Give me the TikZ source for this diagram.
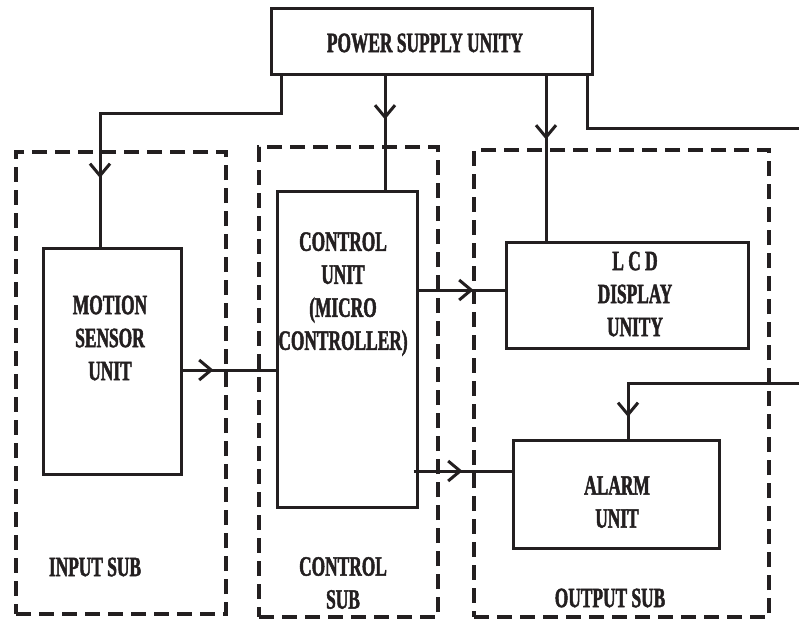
\documentclass[tikz,border=0pt]{standalone}
\usepackage{fontspec}
\newfontfamily\lblfont{Liberation Serif Bold}[FakeStretch=0.62, FakeBold=1.6]
\usetikzlibrary{arrows.meta,decorations.markings}
\definecolor{ink}{HTML}{231F20}
\begin{document}
\begin{tikzpicture}[x=1pt,y=-1pt,
  box/.style={draw=ink, line width=3pt, rectangle, inner sep=0pt},
  subbox/.style={draw=ink, line width=3.5pt, rectangle, inner sep=0pt, dash pattern=on 15pt off 8pt},
  conn/.style={draw=ink, line width=3pt},
  arrowat/.style={postaction={decorate}, decoration={markings, mark=at position #1 with {\arrow[ink]{Straight Barb[length=12pt,width=20pt,line width=3pt]}}}},
  lbl/.style={font=\lblfont\fontsize{28}{33}\selectfont, text=ink, align=center, inner sep=0pt}]
\useasboundingbox[fill=white] (0,0) rectangle (799,619);
% sub-system frames
\node[subbox, minimum width=210pt, minimum height=462pt] (insub) at (121,383) {};
\node[subbox, minimum width=179pt, minimum height=470pt] (ctrlsub) at (348.5,382) {};
\node[subbox, minimum width=295pt, minimum height=467pt] (outsub) at (621.5,383.5) {};
% blocks
\node[box, minimum width=321pt, minimum height=66pt] (psu) at (431.5,41) {};
\node[box, minimum width=138pt, minimum height=226pt] (motion) at (112,361) {};
\node[box, minimum width=140pt, minimum height=316pt] (ctrl) at (347,349) {};
\node[box, minimum width=242pt, minimum height=106pt] (lcd) at (627,295) {};
\node[box, minimum width=206pt, minimum height=108pt] (alarm) at (616,494) {};
% labels
\node[lbl] (tpsu) at (425,43) {POWER SUPPLY UNITY};
\node[lbl] (tmotion) at (110,338) {MOTION\\SENSOR\\UNIT};
\node[lbl] (tctrl) at (343,294) {CONTROL\\UNIT\\(MICRO\\CONTROLLER)};
\node[lbl] (tlcd) at (635,294) {L C D\\DISPLAY\\UNITY};
\node[lbl] (talarm) at (617,502) {ALARM\\UNIT};
\node[lbl] (tinsub) at (95,567) {INPUT SUB};
\node[lbl] (tctrlsub) at (343,583) {CONTROL\\SUB};
\node[lbl] (toutsub) at (610,598) {OUTPUT SUB};
% helper coordinates
\coordinate (c1) at ([xshift=38pt]ctrl.north);
\coordinate (l1) at ([xshift=-81pt]lcd.north);
\coordinate (r1) at (799,128);
\coordinate (r2) at (799,383);
\coordinate (m1) at ([yshift=-9pt]motion.east);
\coordinate (d1) at ([yshift=5pt]lcd.west);
\coordinate (a1) at ([yshift=23pt]alarm.west);
% connectors
\draw[conn, arrowat=284pt] ([xshift=12pt]psu.south west) -- ++(0,38) -| ([xshift=-12pt]motion.north);
\draw[conn, arrowat=44pt] (c1 |- psu.south) -- (c1);
\draw[conn, arrowat=64pt] (l1 |- psu.south) -- (l1);
\draw[conn] ([xshift=-6pt]psu.south east) |- (r1);
\draw[conn, arrowat=205pt] (r2) -| ([xshift=12pt]alarm.north);
\draw[conn, arrowat=31pt] (m1) -- (m1 -| ctrl.west);
\draw[conn, arrowat=55pt] (d1 -| ctrl.east) -- (d1);
\draw[conn, arrowat=49pt] ([xshift=-5pt]a1 -| ctrl.east) -- (a1);
\end{tikzpicture}
\end{document}
